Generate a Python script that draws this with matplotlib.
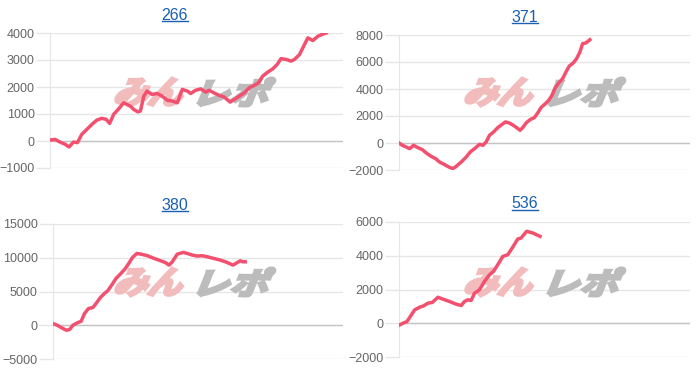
import numpy as np
import matplotlib
matplotlib.use("Agg")
import matplotlib.pyplot as plt
from matplotlib.textpath import TextPath
from matplotlib.font_manager import FontProperties
from matplotlib.patches import PathPatch
from matplotlib.transforms import Affine2D
from matplotlib.lines import Line2D

plt.rcParams['font.family'] = ['Liberation Sans', 'DejaVu Sans']

# chart titles (machine numbers)
titles = ["266", "371", "380", "536"]

# x = game index, y = cumulative balance
x266 = [2, 15, 30, 45, 57, 70, 82, 95, 110, 125, 140, 155, 168, 178, 190, 205, 220, 230, 240, 250,
        262, 270, 280, 290, 305, 320, 335, 350, 365, 380, 395, 410, 420, 435, 450, 465, 475, 490, 505, 520,
        538, 550, 565, 580, 595, 610, 622, 635, 650, 665, 678, 690, 705, 720, 730, 745, 755, 770, 785, 800,
        815, 825]
y266 = [40, 60, -40, -120, -220, -40, -60, 250, 430, 615, 775, 840, 800, 650, 985, 1190, 1415, 1350, 1290, 1170,
        1080, 1110, 1660, 1850, 1725, 1760, 1660, 1510, 1480, 1415, 1910, 1850, 1760, 1880, 1930, 1810, 1880, 1780, 1690, 1630,
        1440, 1540, 1660, 1780, 1970, 2060, 2150, 2400, 2550, 2670, 2830, 3050, 3020, 2960, 3020, 3200, 3450, 3820, 3720, 3880,
        3960, 4000]

x371 = [0, 10, 22, 32, 44, 57, 70, 82, 97, 110, 122, 137, 150, 162, 172, 187, 202, 214, 227, 242,
        252, 262, 272, 284, 297, 310, 320, 332, 344, 355, 364, 372, 382, 394, 407, 417, 427, 440, 450, 460,
        470, 480, 492, 502, 512, 524, 534, 544, 552, 562, 574]
y371 = [0, -170, -300, -420, -170, -350, -490, -740, -990, -1160, -1410, -1600, -1780, -1900, -1730, -1410, -1040, -670, -420, -100,
        -170, 70, 570, 810, 1140, 1380, 1560, 1480, 1310, 1110, 940, 1140, 1480, 1730, 1880, 2220, 2620, 2910, 3160, 3530,
        4100, 4440, 4770, 5260, 5700, 5930, 6250, 6740, 7360, 7410, 7650]

x380 = [0, 13, 25, 40, 50, 60, 73, 85, 95, 107, 120, 130, 143, 155, 165, 177, 190, 203, 217, 230,
        240, 253, 265, 285, 305, 325, 340, 350, 360, 375, 393, 405, 420, 435, 450, 465, 485, 505, 525, 543,
        555, 565, 573, 580]
y380 = [250, 0, -350, -740, -640, 0, 350, 590, 1730, 2480, 2620, 3220, 4110, 4700, 5100, 5940, 6930, 7570, 8320, 9260,
        10050, 10640, 10540, 10300, 9900, 9550, 9260, 8910, 9400, 10540, 10790, 10640, 10400, 10250, 10300, 10150, 9900, 9650, 9310, 8910,
        9260, 9550, 9400, 9400]

x536 = [2, 12, 24, 34, 47, 62, 74, 87, 100, 117, 132, 152, 172, 187, 197, 207, 217, 227, 242, 257,
        272, 284, 297, 312, 327, 342, 357, 367, 384, 402, 424]
y536 = [-100, 0, 100, 400, 790, 950, 1030, 1190, 1230, 1540, 1430, 1290, 1130, 1050, 1290, 1390, 1350, 1780, 1980, 2480,
        2870, 3070, 3470, 3960, 4060, 4510, 4990, 5050, 5450, 5350, 5150]

xs = [x266, x371, x380, x536]
ys = [y266, y371, y380, y536]
yticks = [np.arange(-1000, 4001, 1000), np.arange(-2000, 8001, 2000),
          np.arange(-5000, 15001, 5000), np.arange(-2000, 6001, 2000)]

W, H = 700, 374
fig = plt.figure(figsize=(W / 100, H / 100), dpi=100)

# panel boxes (left, top in px) and plot areas
boxes = [(0, 0), (350, 0), (0, 190), (350, 190)]
areas = [(50, 343, 33, 168), (399, 690, 35, 170), (53, 343, 224, 359), (399, 690, 222, 357)]
title_y = [15, 17, 205, 204]

line_col = '#f2506e'
grid_col = '#e6e6e6'


def watermark(ax, bx, by):
    # site logo behind the line, faked with slanted heavy text
    fp = FontProperties(family='Noto Sans CJK JP', weight='bold')
    parts = [("みん", 113, 190, '#f3bcbc'), ("レポ", 197, 276, '#bcbcbc')]
    y_bot = H - (by + 106)
    h = 28
    slant = 22
    for txt, x0, x1, col in parts:
        p = TextPath((0, 0), txt, size=1, prop=fp)
        e = p.get_extents()
        shift = h * np.tan(np.radians(slant))
        tr = (Affine2D().translate(-e.x0, -e.y0)
              .scale((x1 - x0 - shift) / e.width, h / e.height)
              .skew_deg(slant, 0)
              .translate(x0 + bx, y_bot)
              .scale(1 / W, 1 / H))
        ax.add_patch(PathPatch(tr.transform_path(p), transform=fig.transFigure,
                               facecolor=col, edgecolor=col, lw=2.2, joinstyle='miter',
                               zorder=1, clip_on=False))


axes = []
for i in range(4):
    l, r, t, b = areas[i]
    ax = fig.add_axes([l / W, 1 - b / H, (r - l) / W, (b - t) / H])
    ax.set_axisbelow(True)
    ax.plot(xs[i], ys[i], color=line_col, lw=2.5, solid_joinstyle='round', zorder=3)
    ax.set_xlim(0, 875)
    ax.set_ylim(yticks[i][0], yticks[i][-1])
    ax.set_yticks(yticks[i])
    ax.set_xticks([])
    ax.yaxis.grid(True, color=grid_col, lw=1)
    ax.axhline(0, color='#c4c4c4', lw=1, zorder=0.8)
    ax.tick_params(axis='y', length=10, width=1, color=grid_col, pad=1,
                   labelsize=9, labelcolor='#666666')
    for s in ['top', 'right', 'bottom']:
        ax.spines[s].set_visible(False)
    ax.spines['left'].set_color(grid_col)
    watermark(ax, *boxes[i])
    axes.append(ax)

# titles, underlined like links
texts = []
for i in range(4):
    bx, by = boxes[i]
    t = fig.text((bx + 175) / W, 1 - title_y[i] / H, titles[i], ha='center', va='center',
                 fontsize=11.5, color='#1a5fb4')
    texts.append(t)

fig.canvas.draw()
rend = fig.canvas.get_renderer()
for t in texts:
    bb = t.get_window_extent(renderer=rend)
    yy = (bb.y0 + 1.5) / H
    fig.add_artist(Line2D([bb.x0 / W, bb.x1 / W], [yy, yy], transform=fig.transFigure,
                          color='#1a5fb4', lw=1))

fig.savefig("out.png", dpi=100)
